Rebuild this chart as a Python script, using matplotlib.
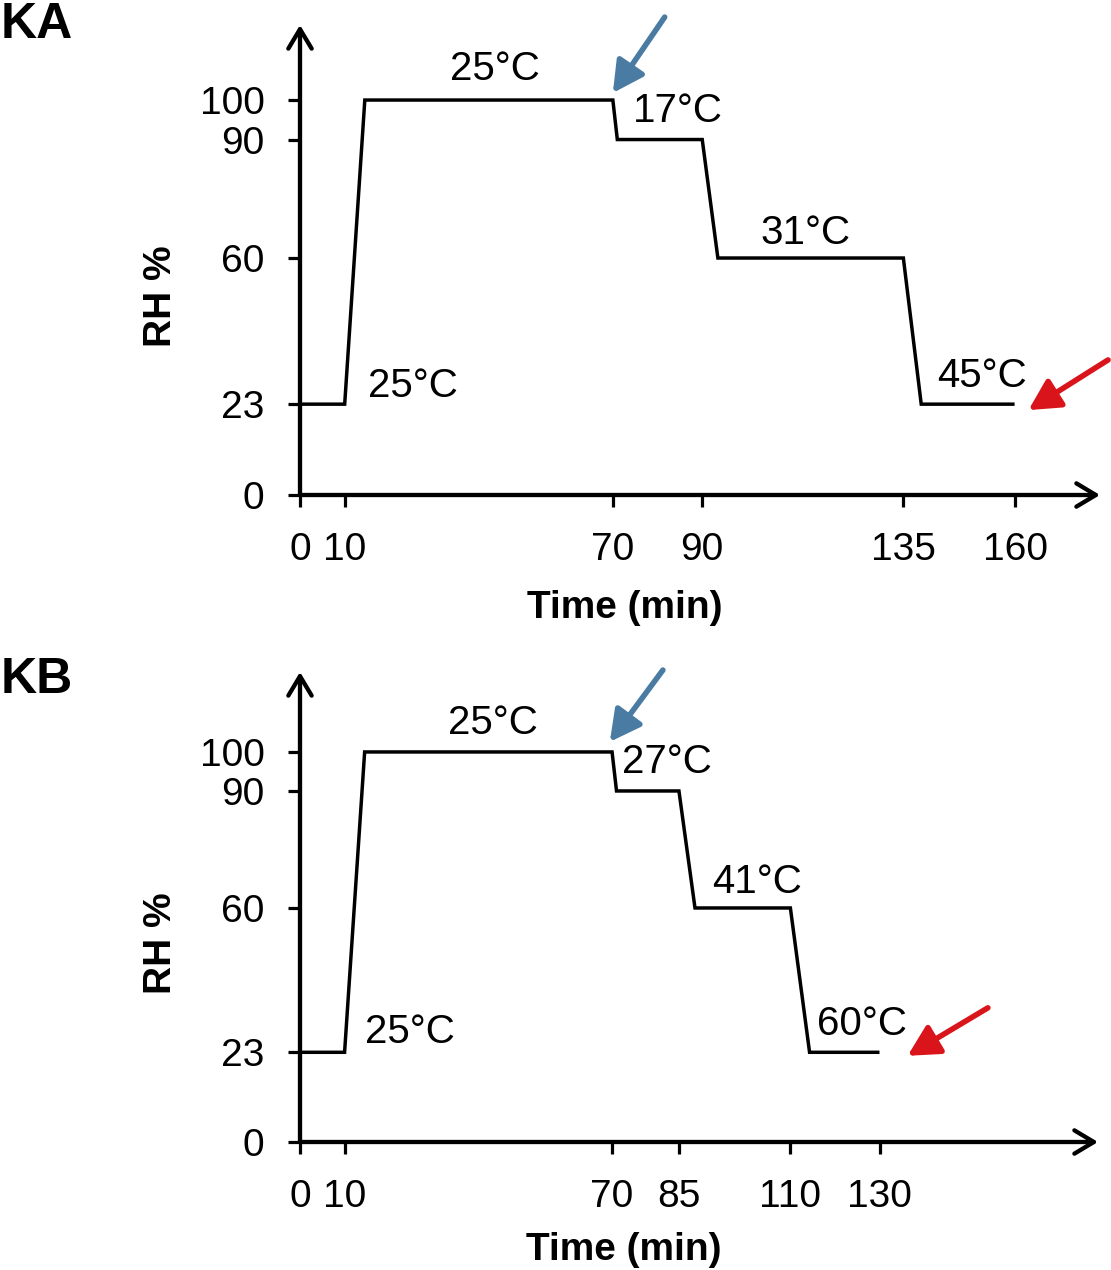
import matplotlib.pyplot as plt

plt.rcParams['font.family'] = ['Liberation Sans', 'DejaVu Sans']

# RH protocol, panel KA
ka_time = [0, 10, 14.5, 70, 71, 90, 93.5, 135, 139, 159.5]
ka_rh = [23, 23, 100, 100, 90, 90, 60, 60, 23, 23]
ka_xticks = [0, 10, 70, 90, 135, 160]
ka_temps = ["25°C", "17°C", "31°C", "45°C", "25°C"]

# RH protocol, panel KB
kb_time = [0, 10, 14.5, 70, 71, 85, 88.6, 110, 114.3, 129.6]
kb_rh = [23, 23, 100, 100, 90, 90, 60, 60, 23, 23]
kb_xticks = [0, 10, 70, 85, 110, 130]
kb_temps = ["25°C", "27°C", "41°C", "60°C", "25°C"]

yticks = [0, 23, 60, 90, 100]

W, H = 1111, 1270
fig = plt.figure(figsize=(W / 100, H / 100), dpi=100)


def px_axes(x0, ybot, x1, ytop):
    return fig.add_axes([x0 / W, 1 - ybot / H, (x1 - x0) / W, (ybot - ytop) / H])


def draw_panel(ax, time, rh, xticks, temps, temp_pos, ymax, blue, red, name, name_y, xlab_y):
    ax.set_xlim(0, 179)
    ax.set_ylim(0, ymax)
    for s in ax.spines.values():
        s.set_visible(False)

    # axis lines with arrow heads
    head = dict(arrowstyle="->,head_length=0.7,head_width=0.42", lw=3.1,
                color="black", mutation_scale=20, shrinkA=0, shrinkB=0)
    ax.annotate("", xy=(1, 0), xytext=(0, 0), xycoords="axes fraction", arrowprops=head)
    ax.annotate("", xy=(0, 1), xytext=(0, 0), xycoords="axes fraction", arrowprops=head)

    ax.plot(time, rh, color="black", lw=2.5, solid_joinstyle="miter", clip_on=False)

    ax.set_xticks(xticks)
    ax.set_yticks(yticks)
    ax.tick_params(axis="both", direction="out", length=8.6, width=2.3, labelsize=28)
    ax.tick_params(axis="x", pad=18)
    ax.tick_params(axis="y", pad=17)

    for t, (x, y) in zip(temps, temp_pos):
        ax.text(x, y - 1, t, fontsize=29, ha="center", va="center")

    arr = dict(arrowstyle="-|>,head_length=0.85,head_width=0.45", lw=4,
               mutation_scale=22, shrinkA=0, shrinkB=0)
    ax.annotate("", xy=blue[1], xytext=blue[0], arrowprops=dict(arr, color="#4a7ca3"),
                annotation_clip=False)
    ax.annotate("", xy=red[1], xytext=red[0], arrowprops=dict(arr, color="#d9151b"),
                annotation_clip=False)

    ax.text(-0.174, 0.423, "RH %", transform=ax.transAxes, rotation=90,
            fontsize=28, fontweight="bold", ha="center", va="center")
    ax.text(0.406, xlab_y, "Time (min)", transform=ax.transAxes,
            fontsize=28, fontweight="bold", ha="center", va="center")
    fig.text(37 / W, 1 - name_y / H, name, fontsize=36, fontweight="bold",
             ha="center", va="center")


ax1 = px_axes(300, 495, 1100, 25)
draw_panel(ax1, ka_time, ka_rh, ka_xticks, ka_temps,
           [(43.6, 108.9), (84.6, 98.2), (113, 67.3), (152.6, 31.1), (25.3, 28.6)],
           119, [(81.6, 121.0), (70, 101.8)], [(180.8, 34.2), (163, 21.5)],
           "KA", 25, -0.241)

ax2 = px_axes(300, 1142, 1098, 672)
draw_panel(ax2, kb_time, kb_rh, kb_xticks, kb_temps,
           [(43.3, 108.5), (82.3, 98.5), (102.5, 67.7), (126, 31.3), (24.7, 29.2)],
           120.5, [(81.4, 121.0), (69.5, 102.6)], [(154.3, 34.4), (136.3, 22.1)],
           "KB", 680, -0.230)

fig.savefig("out.png", dpi=100)
